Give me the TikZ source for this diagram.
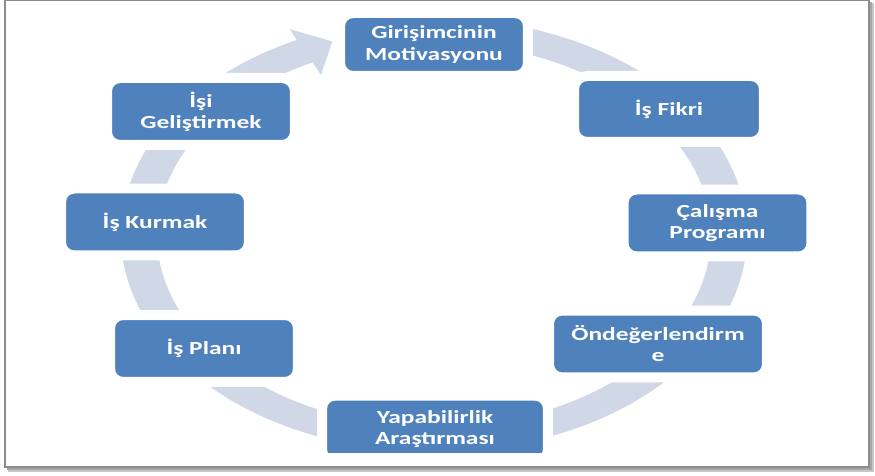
\documentclass[tikz,border=0pt]{standalone}
\usepackage{fontspec}
\newfontfamily\stagefont[FakeStretch=1.38]{Carlito}
\usetikzlibrary{calc}
\definecolor{boxblue}{RGB}{79,129,189}
\definecolor{ringgray}{RGB}{208,216,232}
\tikzset{
  stage/.style={rectangle, rounded corners=0.26cm, fill=boxblue, draw=white,
    line width=0.2cm, text=white, align=center, inner sep=0pt,
    minimum width=3.76cm, minimum height=1.34cm,
    font=\stagefont\bfseries\fontsize{10.5}{12}\selectfont},
}
\begin{document}
\begin{tikzpicture}[x=0.02cm,y=0.02cm]
  \useasboundingbox (0,0) rectangle (875,476);
  % cerceve ve golge
  \fill[black!22] (8,4) rectangle (874,473);
  \fill[black!35] (7,6) rectangle (872,474);
  \fill[white, draw=black!45, line width=0.03cm] (5,9) rectangle (869,476);

  \begin{scope}
    \clip (5,23) rectangle (869,476);
    % dongu oku
    \begin{scope}[shift={(434,241)}]
      \fill[ringgray] (75:313 and 217)
        arc[start angle=75, end angle=-244, x radius=313, y radius=217]
        -- (-244:329 and 229) -- (-250:297 and 206) -- (-244:258 and 178)
        -- (-244:277 and 192)
        arc[start angle=-244, end angle=75, x radius=277, y radius=192]
        -- cycle;
    \end{scope}

    % asamalar
    \node[stage, minimum height=1.26cm] (motivasyon) at (434,431.5) {Girişimcinin\\Motivasyonu};
    \node[stage, minimum width=3.8cm, minimum height=1.32cm] (fikir) at (669,367) {İş Fikri};
    \node[stage] (program) at (717.5,253) {Çalışma\\Programı};
    \node[stage, minimum width=4.36cm] (degerlendirme) at (658,132) {Öndeğerlendirm\\e};
    \node[stage, minimum width=4.52cm] (yapabilirlik) at (435,47) {Yapabilirlik\\Araştırması};
    \node[stage] (plan) at (204,127.5) {İş Planı};
    \node[stage] (kurmak) at (155,254) {İş Kurmak};
    \node[stage] (gelistirmek) at (201,364.5) {İşi\\Geliştirmek};
  \end{scope}
\end{tikzpicture}
\end{document}
